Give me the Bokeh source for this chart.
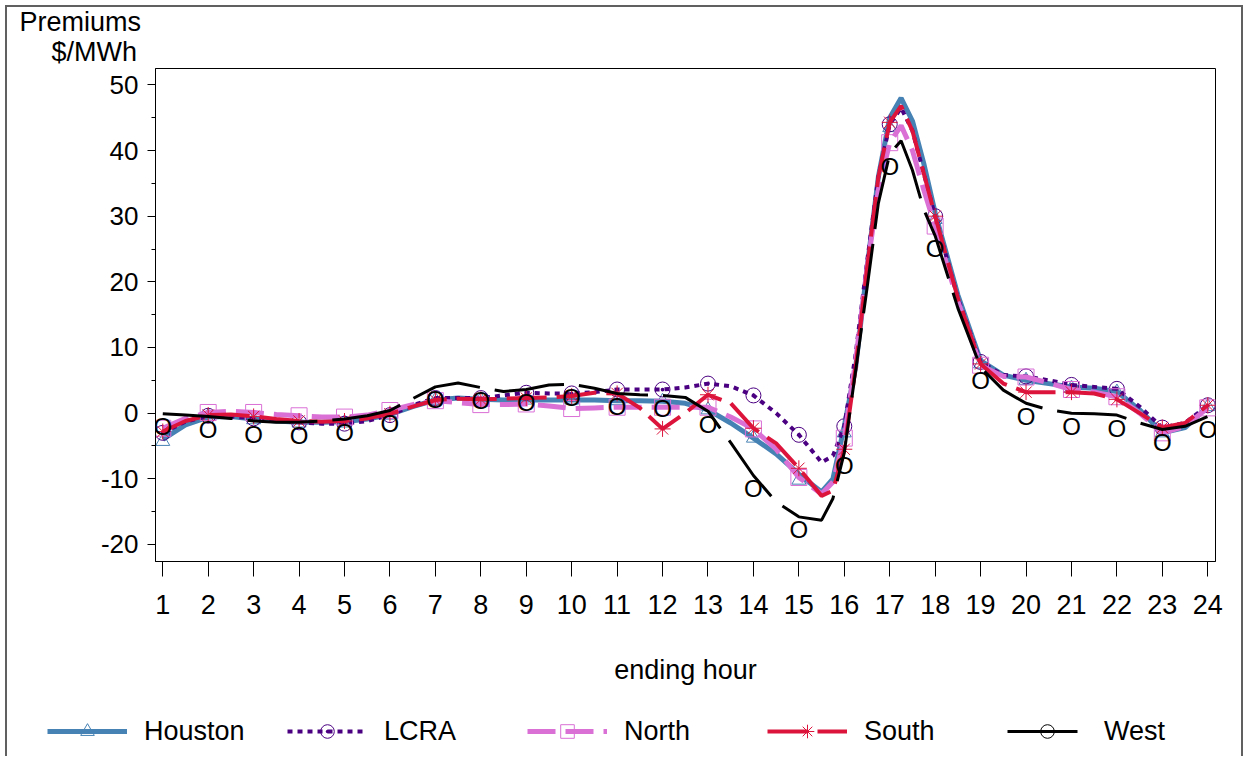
from bokeh.plotting import figure
from bokeh.layouts import column
from bokeh.embed import file_html
from bokeh.resources import INLINE
from bokeh.models import (Range1d, FixedTicker, Legend, LegendItem, Title)
from bokeh.core.properties import value

# ---------------- data ----------------
hours = list(range(1, 25))

curve_hours = [1, 1.5, 2, 2.5, 3, 3.5, 4, 4.5, 5, 5.5, 6, 6.5, 7, 7.5, 8, 8.5,
               9, 9.5, 10, 10.5, 11, 11.5, 12, 12.5, 13, 13.5, 14, 14.5, 15,
               15.5, 15.75, 16, 16.25, 16.5, 16.75, 17, 17.25, 17.5, 17.75, 18,
               18.5, 19, 19.5, 20, 20.5, 21, 21.5, 22, 22.5, 23, 23.5, 24]

houston_pts = [-4.3, -0.5, -1.0, -1.5, -1.5, -0.3, 2.0, 2.0, 2.0, 2.0, 1.9, 1.8,
               0.5, -3.8, -10.2, -3.0, 43.5, 29.5, 7.5, 5.0, 3.8, 3.2, -3.0, 1.0]
houston_curve = [-4.0, -1.8, -0.6, -0.5, -0.9, -1.2, -1.4, -1.4, -1.3, -0.9,
                 -0.2, 1.0, 2.0, 2.3, 2.1, 2.0, 2.0, 2.0, 2.0, 2.0, 1.9, 1.9,
                 1.8, 1.5, 0.5, -1.5, -3.8, -6.2, -9.3, -12.0, -10.0, -2.0, 7.0,
                 22.0, 36.0, 45.0, 48.0, 44.5, 38.0, 30.5, 18.0, 8.0, 5.8, 5.0,
                 4.5, 4.0, 3.8, 3.3, 0.5, -3.0, -2.2, 1.0]

lcra_pts = [-3.0, -0.4, -0.8, -1.4, -1.6, -0.3, 2.3, 2.3, 3.1, 3.0, 3.6, 3.6,
            4.5, 2.7, -3.3, -2.0, 44.0, 30.0, 7.8, 5.6, 4.3, 3.7, -2.2, 1.2]
lcra_curve = [-3.0, -1.3, -0.4, -0.5, -0.8, -1.1, -1.4, -1.6, -1.6, -1.2,
              -0.3, 1.2, 2.3, 2.3, 2.3, 2.7, 3.1, 3.0, 3.0, 3.2, 3.6, 3.6, 3.6,
              3.9, 4.5, 4.1, 2.7, 0.0, -3.3, -7.5, -6.5, -2.0, 9.0, 23.0, 36.0,
              44.0, 46.5, 43.0, 36.5, 30.0, 17.5, 7.8, 5.8, 5.6, 5.0, 4.3, 4.0,
              3.7, 1.0, -2.2, -1.5, 1.2]

north_pts = [-2.3, 0.1, 0.1, -0.4, -0.6, 0.4, 1.9, 1.3, 1.4, 0.7, 0.9, 0.9,
             0.9, -2.4, -9.8, -3.8, 41.2, 28.5, 7.3, 5.5, 3.6, 2.5, -3.0, 0.8]
north_curve = [-2.3, -0.8, 0.1, 0.3, 0.1, -0.2, -0.4, -0.6, -0.6, -0.3, 0.4,
               1.3, 1.9, 1.6, 1.3, 1.3, 1.4, 1.1, 0.7, 0.8, 0.9, 0.9, 0.9, 0.9,
               0.9, -0.6, -2.4, -5.5, -9.8, -12.3, -10.5, -3.8, 8.0, 22.0,
               34.0, 41.2, 43.8, 40.0, 34.0, 28.5, 17.0, 7.3, 5.6, 5.5, 4.6,
               3.6, 3.2, 2.5, 0.0, -3.0, -2.0, 0.8]

south_pts = [-2.8, -0.3, -0.5, -1.2, -1.2, -0.1, 2.0, 2.1, 2.3, 2.6, 3.0, -2.4,
             2.8, -2.3, -8.4, -5.5, 44.3, 30.0, 7.5, 3.2, 3.2, 2.1, -2.2, 1.2]
south_curve = [-2.8, -1.2, -0.3, -0.2, -0.5, -0.9, -1.2, -1.3, -1.2, -0.8,
               -0.1, 1.0, 2.0, 2.2, 2.1, 2.2, 2.3, 2.4, 2.6, 3.1, 3.0, 0.8,
               -2.4, 0.0, 2.8, 1.5, -2.3, -4.6, -8.4, -12.6, -11.8, -5.5, 7.0,
               22.0, 36.0, 44.3, 46.8, 43.0, 36.5, 30.0, 17.5, 7.5, 4.5, 3.2,
               3.2, 3.2, 3.0, 2.1, 0.0, -2.2, -1.5, 1.2]

west_pts = [-0.1, -0.5, -1.2, -1.4, -0.9, 0.4, 4.0, 3.9, 3.6, 4.4, 3.0, 2.7,
            0.3, -9.5, -15.8, -6.0, 39.5, 27.0, 7.0, 1.5, 0.0, -0.3, -2.5, -0.5]
west_curve = [-0.1, -0.3, -0.5, -0.8, -1.2, -1.4, -1.4, -1.2, -0.9, -0.4, 0.4,
              2.2, 4.0, 4.6, 3.9, 3.3, 3.6, 4.3, 4.4, 3.8, 3.0, 2.8, 2.7, 2.4,
              0.3, -4.5, -9.5, -13.5, -15.8, -16.3, -13.0, -6.0, 6.5, 19.0,
              32.0, 39.5, 41.5, 37.0, 31.0, 27.0, 16.0, 7.0, 3.5, 1.5, 0.5, 0.0,
              -0.1, -0.3, -1.5, -2.5, -2.0, -0.5]

series_names = ["Houston", "LCRA", "North", "South", "West"]
y_ticks = [-20, -10, 0, 10, 20, 30, 40, 50]
y_minor = [-15, -5, 5, 15, 25, 35, 45]

FONT = "Liberation Sans"
NAN = float("nan")

# per-series styles
STY = {
    "Houston": dict(color="#4682B4", width=5, dash="solid", marker="triangle", size=14),
    "LCRA": dict(color="#4B0082", width=4, dash="5 5", marker="circle_dot", size=15),
    "North": dict(color="#DA70D6", width=5, dash="28 10", marker="square", size=16),
    "South": dict(color="#DC143C", width=4, dash="40 10", marker="asterisk", size=16),
    "West": dict(color="black", width=3, dash="70 15", marker="circle", size=15),
}

p = figure(width=1234, height=693,
           x_range=Range1d(0.84, 24.17), y_range=Range1d(-22.6, 52.5),
           output_backend="svg", toolbar_location=None,
           min_border_left=148, min_border_right=26,
           min_border_top=61, min_border_bottom=139)
p.frame_align = False
p.grid.visible = False
p.outline_line_color = "black"
p.outline_line_width = 1
p.background_fill_color = "white"
p.border_fill_color = "white"

# ---- series ----
curves = [houston_curve, lcra_curve, north_curve, south_curve, west_curve]
points = [houston_pts, lcra_pts, north_pts, south_pts, west_pts]
for name, cv, pts in zip(series_names, curves, points):
    s = STY[name]
    p.line(curve_hours, cv, line_color=s["color"], line_width=s["width"],
           line_dash=s["dash"])
    if name == "West":
        p.text(hours, pts, text=value("O"), text_font=value(FONT),
               text_font_size=value("24px"), text_align="center",
               text_baseline="middle", y_offset=13, text_color="black")
    else:
        p.scatter(hours, pts, marker=s["marker"], size=s["size"],
                  line_color=s["color"], fill_alpha=0, line_width=1)

# ---- axes ----
xa = p.xaxis[0]
xa.ticker = FixedTicker(ticks=hours)
xa.minor_tick_line_color = None
xa.major_tick_out = 15
xa.major_tick_in = 0
xa.major_label_standoff = 18
xa.major_label_text_font = FONT
xa.major_label_text_font_size = "27px"
xa.major_label_text_color = "black"
xa.axis_label = "ending hour"
xa.axis_label_text_font = FONT
xa.axis_label_text_font_size = "27px"
xa.axis_label_text_font_style = "normal"
xa.axis_label_text_color = "black"
xa.axis_label_standoff = 38
xa.axis_line_color = "black"
xa.major_tick_line_color = "black"

ya = p.yaxis[0]
ya.ticker = FixedTicker(ticks=y_ticks, minor_ticks=y_minor)
ya.major_label_overrides = {t: str(t) for t in y_ticks}
ya.major_tick_out = 8
ya.major_tick_in = 0
ya.minor_tick_out = 4
ya.minor_tick_in = 0
ya.major_label_standoff = 9
ya.major_label_text_font = FONT
ya.major_label_text_font_size = "26px"
ya.major_label_text_color = "black"
ya.axis_line_color = "black"
ya.major_tick_line_color = "black"
ya.minor_tick_line_color = "black"

# ---- y title (two lines, above the y axis) ----
p.add_layout(Title(text="$/MWh", align="left", offset=-104, standoff=3,
                   text_font=FONT, text_font_size="27px",
                   text_font_style="normal", text_color="black"), "above")
p.add_layout(Title(text="Premiums", align="left", offset=-136, standoff=-6,
                   text_font=FONT, text_font_size="27px",
                   text_font_style="normal", text_color="black"), "above")

# ---- legend strip (legend-only renderers holding a single NaN) ----
p2 = figure(width=1234, height=56, x_axis_type=None, y_axis_type=None,
            x_range=Range1d(0, 1), y_range=Range1d(0, 1),
            output_backend="svg", toolbar_location=None, min_border=0)
p2.frame_align = False
p2.grid.visible = False
p2.outline_line_color = None
items = []
for name in series_names:
    s = STY[name]
    rl = p2.line([NAN], [NAN], line_color=s["color"], line_width=s["width"],
                 line_dash=s["dash"])
    rm = p2.scatter([NAN], [NAN], marker=s["marker"], size=s["size"],
                    line_color=s["color"], fill_alpha=0, line_width=1)
    items.append(LegendItem(label=name, renderers=[rl, rm]))
legend = Legend(items=items, orientation="horizontal", location=(40, 8),
                glyph_width=80, glyph_height=34, label_standoff=17,
                label_width=143, spacing=0, padding=5, margin=0,
                border_line_color=None, background_fill_alpha=0,
                label_text_font=FONT, label_text_font_size="27px",
                label_text_color="black")
p2.add_layout(legend, "center")

layout = column(p, p2, margin=(5, 0, 0, 5), spacing=0,
                styles={"border-left": "2px solid #606060",
                        "border-top": "2px solid #606060",
                        "border-right": "2px solid #606060"})

open("out.html", "w").write(file_html(layout, INLINE))
